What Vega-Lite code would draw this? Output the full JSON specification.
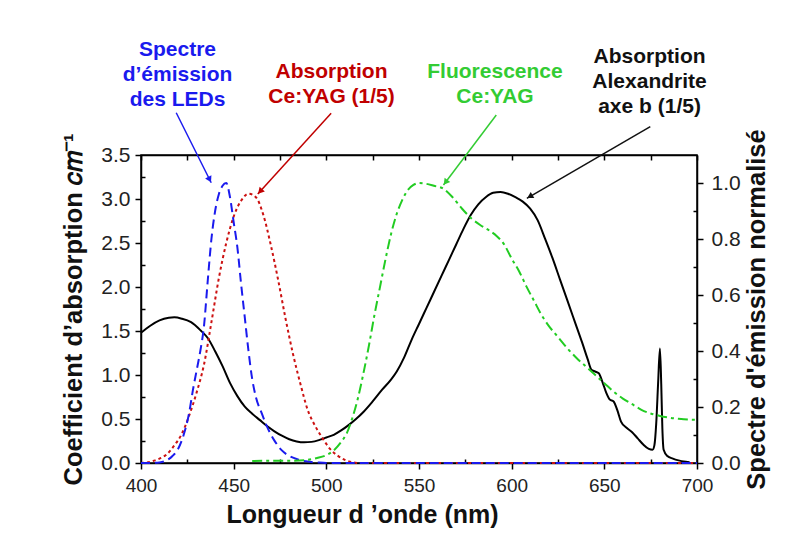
{
  "$schema": "https://vega.github.io/schema/vega-lite/v6.json",
  "width": 556,
  "height": 308,
  "autosize": "none",
  "padding": {"left": 141, "top": 155, "right": 114, "bottom": 96},
  "background": "white",
  "config": {
    "font": "Liberation Sans",
    "view": {"stroke": "black", "strokeWidth": 1.5},
    "axis": {
      "labelFont": "Liberation Sans", "labelFontSize": 19, "labelColor": "#222",
      "titleFont": "Liberation Sans", "titleFontSize": 25, "titleFontWeight": "bold", "titleColor": "#111",
      "domainColor": "black", "domainWidth": 1.5, "tickColor": "black", "tickWidth": 1.5, "grid": false
    }
  },
  "datasets": {
    "alex": [
      {"wl":400,"v":1.48},{"wl":405,"v":1.56},{"wl":410,"v":1.62},{"wl":415,"v":1.65},{"wl":418,"v":1.655},{"wl":422,"v":1.64},{"wl":427,"v":1.6},{"wl":432,"v":1.51},{"wl":436,"v":1.42},{"wl":440,"v":1.27},{"wl":444,"v":1.1},{"wl":448,"v":0.91},{"wl":452,"v":0.76},{"wl":456,"v":0.64},{"wl":460,"v":0.56},{"wl":464,"v":0.49},{"wl":468,"v":0.42},{"wl":472,"v":0.36},{"wl":476,"v":0.31},{"wl":480,"v":0.27},{"wl":484,"v":0.245},{"wl":488,"v":0.235},{"wl":492,"v":0.24},{"wl":496,"v":0.26},{"wl":500,"v":0.29},{"wl":504,"v":0.32},{"wl":508,"v":0.37},{"wl":512,"v":0.43},{"wl":516,"v":0.5},{"wl":520,"v":0.58},{"wl":525,"v":0.7},{"wl":530,"v":0.83},{"wl":535,"v":0.95},{"wl":538,"v":1.04},{"wl":542,"v":1.2},{"wl":546,"v":1.4},{"wl":550,"v":1.58},{"wl":554,"v":1.76},{"wl":558,"v":1.94},{"wl":562,"v":2.12},{"wl":566,"v":2.3},{"wl":570,"v":2.48},{"wl":574,"v":2.66},{"wl":578,"v":2.82},{"wl":582,"v":2.94},{"wl":586,"v":3.02},{"wl":590,"v":3.07},{"wl":594,"v":3.08},{"wl":598,"v":3.06},{"wl":602,"v":3.02},{"wl":606,"v":2.97},{"wl":610,"v":2.89},{"wl":614,"v":2.76},{"wl":618,"v":2.55},{"wl":622,"v":2.33},{"wl":626,"v":2.09},{"wl":630,"v":1.85},{"wl":634,"v":1.61},{"wl":638,"v":1.37},{"wl":641,"v":1.18},{"wl":643,"v":1.06},{"wl":645,"v":1.04},{"wl":647,"v":1.02},{"wl":649,"v":0.92},{"wl":651,"v":0.8},{"wl":653,"v":0.72},{"wl":655,"v":0.7},{"wl":657,"v":0.6},{"wl":659,"v":0.47},{"wl":662,"v":0.4},{"wl":665,"v":0.35},{"wl":668,"v":0.28},{"wl":671,"v":0.21},{"wl":674,"v":0.16},{"wl":676,"v":0.15},{"wl":677,"v":0.2},{"wl":678,"v":0.45},{"wl":679,"v":0.9},{"wl":680,"v":1.3},{"wl":680.7,"v":0.9},{"wl":681.3,"v":0.4},{"wl":682,"v":0.15},{"wl":684,"v":0.08},{"wl":687,"v":0.05},{"wl":690,"v":0.03},{"wl":694,"v":0.015},{"wl":696,"v":0.01}
    ],
    "ceabs": [
      {"wl":400,"v":0},{"wl":403,"v":0.005},{"wl":406,"v":0.02},{"wl":410,"v":0.05},{"wl":414,"v":0.1},{"wl":418,"v":0.2},{"wl":422,"v":0.33},{"wl":426,"v":0.54},{"wl":430,"v":0.8},{"wl":434,"v":1.12},{"wl":438,"v":1.6},{"wl":442,"v":2.1},{"wl":446,"v":2.5},{"wl":450,"v":2.8},{"wl":454,"v":2.98},{"wl":458,"v":3.06},{"wl":462,"v":3.02},{"wl":466,"v":2.82},{"wl":470,"v":2.48},{"wl":474,"v":2.08},{"wl":478,"v":1.64},{"wl":482,"v":1.24},{"wl":486,"v":0.9},{"wl":490,"v":0.6},{"wl":494,"v":0.42},{"wl":498,"v":0.28},{"wl":502,"v":0.16},{"wl":506,"v":0.085},{"wl":510,"v":0.035},{"wl":514,"v":0.008},{"wl":518,"v":0},{"wl":550,"v":0},{"wl":600,"v":0},{"wl":650,"v":0},{"wl":700,"v":0}
    ],
    "led": [
      {"wl":400,"v":0},{"wl":405,"v":0},{"wl":410,"v":0.002},{"wl":414,"v":0.01},{"wl":417,"v":0.025},{"wl":420,"v":0.05},{"wl":423,"v":0.1},{"wl":426,"v":0.18},{"wl":428,"v":0.26},{"wl":430,"v":0.33},{"wl":432,"v":0.4},{"wl":434,"v":0.49},{"wl":436,"v":0.65},{"wl":438,"v":0.8},{"wl":440,"v":0.9},{"wl":442,"v":0.96},{"wl":444,"v":0.99},{"wl":446,"v":1.0},{"wl":448,"v":0.95},{"wl":450,"v":0.86},{"wl":452,"v":0.77},{"wl":454,"v":0.64},{"wl":456,"v":0.52},{"wl":458,"v":0.4},{"wl":460,"v":0.3},{"wl":462,"v":0.235},{"wl":465,"v":0.18},{"wl":468,"v":0.13},{"wl":472,"v":0.08},{"wl":476,"v":0.045},{"wl":480,"v":0.025},{"wl":485,"v":0.012},{"wl":490,"v":0.005},{"wl":495,"v":0.002},{"wl":500,"v":0},{"wl":550,"v":0},{"wl":600,"v":0},{"wl":650,"v":0},{"wl":700,"v":0}
    ],
    "fluo": [
      {"wl":460,"v":0.007},{"wl":470,"v":0.008},{"wl":480,"v":0.008},{"wl":488,"v":0.01},{"wl":495,"v":0.018},{"wl":500,"v":0.028},{"wl":504,"v":0.045},{"wl":508,"v":0.075},{"wl":511,"v":0.106},{"wl":514,"v":0.16},{"wl":517,"v":0.23},{"wl":520,"v":0.32},{"wl":523,"v":0.42},{"wl":526,"v":0.53},{"wl":529,"v":0.63},{"wl":532,"v":0.73},{"wl":535,"v":0.82},{"wl":538,"v":0.89},{"wl":541,"v":0.94},{"wl":544,"v":0.975},{"wl":547,"v":0.993},{"wl":550,"v":1.0},{"wl":554,"v":0.997},{"wl":558,"v":0.99},{"wl":563,"v":0.98},{"wl":568,"v":0.95},{"wl":573,"v":0.91},{"wl":578,"v":0.875},{"wl":583,"v":0.85},{"wl":588,"v":0.83},{"wl":592,"v":0.81},{"wl":596,"v":0.78},{"wl":600,"v":0.73},{"wl":604,"v":0.685},{"wl":608,"v":0.63},{"wl":612,"v":0.58},{"wl":616,"v":0.53},{"wl":620,"v":0.49},{"wl":625,"v":0.45},{"wl":630,"v":0.41},{"wl":635,"v":0.375},{"wl":640,"v":0.345},{"wl":645,"v":0.315},{"wl":650,"v":0.285},{"wl":655,"v":0.255},{"wl":660,"v":0.23},{"wl":665,"v":0.21},{"wl":670,"v":0.19},{"wl":675,"v":0.177},{"wl":680,"v":0.168},{"wl":685,"v":0.162},{"wl":690,"v":0.158},{"wl":695,"v":0.155},{"wl":700,"v":0.154}
    ],
    "labels": [
      {"id":"led","wl":419.7,"v":4.625,"t":["Spectre","d’émission","des LEDs"]},
      {"id":"ceabs","wl":502.8,"v":4.375,"t":["Absorption","Ce:YAG (1/5)"]},
      {"id":"fluo","wl":591.0,"v":4.37,"t":["Fluorescence","Ce:YAG"]},
      {"id":"alex","wl":674.4,"v":4.54,"t":["Absorption","Alexandrite","axe b (1/5)"]}
    ],
    "arrows": [
      {"id":"led","wl":419.0,"v":3.98,"wl2":437.9,"v2":3.185},
      {"id":"ceabs","wl":502.6,"v":3.974,"wl2":463.0,"v2":3.057},
      {"id":"fluo","wl":591.7,"v":3.955,"wl2":563.2,"v2":3.159},
      {"id":"alex","wl":674.8,"v":3.822,"wl2":608.2,"v2":3.008}
    ]
  },
  "layer": [
    {
      "layer": [
        {
          "encoding": {
            "x": {"field": "wl", "type": "quantitative",
              "scale": {"domain": [400, 700], "nice": false, "zero": false},
              "axis": {"orient": "bottom", "title": "Longueur d ’onde (nm)", "titleX": 221, "titlePadding": 7,
                "values": [400,450,500,550,600,650,700], "tickSize": 6, "labelPadding": 7, "labelFlush": false}},
            "y": {"field": "v", "type": "quantitative",
              "scale": {"domain": [0, 3.5], "nice": false, "zero": false},
              "axis": {"orient": "left", "title": "Coefficient d’absorption 𝑐𝑚⁻¹", "titlePadding": 14, "titleFontSize": 25.5,
                "values": [0,0.5,1,1.5,2,2.5,3,3.5], "format": ".1f", "tickSize": 6, "labelPadding": 5, "labelFontSize": 21}}
          },
          "layer": [
            {"data": {"name": "alex"}, "mark": {"type": "line", "color": "black", "strokeWidth": 2, "interpolate": "monotone", "clip": false}},
            {"data": {"name": "ceabs"}, "mark": {"type": "line", "color": "#cc1111", "strokeWidth": 2, "strokeDash": [3, 3], "interpolate": "monotone", "clip": false}},
            {"data": {"name": "arrows"},
              "mark": {"type": "rule", "strokeWidth": 1.5, "clip": false},
              "encoding": {"x2": {"field": "wl2"}, "y2": {"field": "v2"},
                "color": {"field": "id", "type": "nominal", "legend": null,
                  "scale": {"domain": ["led","ceabs","fluo","alex"], "range": ["#1a1aee","#c00000","#33cc33","#111111"]}}}},
            {"data": {"name": "arrows"}, "transform": [{"filter": "datum.id === 'led'"}],
              "mark": {"type": "point", "shape": "triangle-up", "filled": true, "size": 50, "opacity": 1, "angle": 153.4, "xOffset": -1.6, "yOffset": -3.1, "color": "#1a1aee", "clip": false},
              "encoding": {"x": {"field": "wl2"}, "y": {"field": "v2"}}},
            {"data": {"name": "arrows"}, "transform": [{"filter": "datum.id === 'ceabs'"}],
              "mark": {"type": "point", "shape": "triangle-up", "filled": true, "size": 50, "opacity": 1, "angle": 222.3, "xOffset": 2.4, "yOffset": -2.6, "color": "#c00000", "clip": false},
              "encoding": {"x": {"field": "wl2"}, "y": {"field": "v2"}}},
            {"data": {"name": "arrows"}, "transform": [{"filter": "datum.id === 'fluo'"}],
              "mark": {"type": "point", "shape": "triangle-up", "filled": true, "size": 50, "opacity": 1, "angle": 217, "xOffset": 2.1, "yOffset": -2.8, "color": "#33cc33", "clip": false},
              "encoding": {"x": {"field": "wl2"}, "y": {"field": "v2"}}},
            {"data": {"name": "arrows"}, "transform": [{"filter": "datum.id === 'alex'"}],
              "mark": {"type": "point", "shape": "triangle-up", "filled": true, "size": 50, "opacity": 1, "angle": 239.9, "xOffset": 3.0, "yOffset": -1.8, "color": "#111111", "clip": false},
              "encoding": {"x": {"field": "wl2"}, "y": {"field": "v2"}}},
            {"data": {"name": "labels"},
              "mark": {"type": "text", "font": "Liberation Sans", "fontWeight": "bold", "fontSize": 21, "lineHeight": 25, "align": "center", "baseline": "alphabetic", "clip": false},
              "encoding": {"text": {"field": "t"},
                "color": {"field": "id", "type": "nominal", "legend": null,
                  "scale": {"domain": ["led","ceabs","fluo","alex"], "range": ["#1a1aee","#c00000","#33cc33","#111111"]}}}}
          ]
        },
        {
          "data": {"name": "alex"},
          "mark": {"type": "line", "opacity": 0, "clip": false},
          "encoding": {
            "x": {"field": "wl", "type": "quantitative",
              "scale": {"domain": [400, 700], "nice": false, "zero": false},
              "axis": {"orient": "bottom", "title": null, "labels": false, "domain": false,
                "values": [425,475,525,575,625,675], "tickSize": -4}},
            "y": {"field": "v", "type": "quantitative",
              "scale": {"domain": [0, 3.5], "nice": false, "zero": false},
              "axis": {"orient": "left", "title": null, "labels": false, "domain": false,
                "values": [0.25,0.75,1.25,1.75,2.25,2.75,3.25], "tickSize": -4}}
          }
        }
      ],
      "resolve": {"axis": {"x": "independent", "y": "independent"}}
    },
    {
      "layer": [
        {
          "encoding": {
            "x": {"field": "wl", "type": "quantitative",
              "scale": {"domain": [400, 700], "nice": false, "zero": false},
              "axis": {"orient": "top", "title": null, "labels": false,
                "values": [400,425,450,475,500,525,550,575,600,625,650,675,700], "tickSize": -5}},
            "y": {"field": "v", "type": "quantitative",
              "scale": {"domain": [0, 1.1], "nice": false, "zero": false},
              "axis": {"orient": "right", "title": "Spectre d'émission normalisé", "titleAngle": 270, "titleBaseline": "top", "titlePadding": 4, "titleFontSize": 25.5,
                "values": [0,0.2,0.4,0.6,0.8,1.0], "format": ".1f", "tickSize": 6, "labelPadding": 8, "labelFontSize": 21}}
          },
          "layer": [
            {"data": {"name": "led"}, "mark": {"type": "line", "color": "#1a1aee", "strokeWidth": 2, "strokeDash": [9, 5], "interpolate": "monotone", "clip": false}},
            {"data": {"name": "fluo"}, "mark": {"type": "line", "color": "#22cc22", "strokeWidth": 2, "strokeDash": [10, 4, 3, 4], "interpolate": "monotone", "clip": false}}
          ]
        },
        {
          "data": {"name": "led"},
          "mark": {"type": "line", "opacity": 0, "clip": false},
          "encoding": {
            "x": {"field": "wl", "type": "quantitative",
              "scale": {"domain": [400, 700], "nice": false, "zero": false}, "axis": null},
            "y": {"field": "v", "type": "quantitative",
              "scale": {"domain": [0, 1.1], "nice": false, "zero": false},
              "axis": {"orient": "right", "title": null, "labels": false, "domain": false,
                "values": [0.1,0.3,0.5,0.7,0.9], "tickSize": -4}}
          }
        }
      ],
      "resolve": {"axis": {"x": "independent", "y": "independent"}}
    }
  ],
  "resolve": {"scale": {"y": "independent"}, "axis": {"x": "independent", "y": "independent"}}
}
